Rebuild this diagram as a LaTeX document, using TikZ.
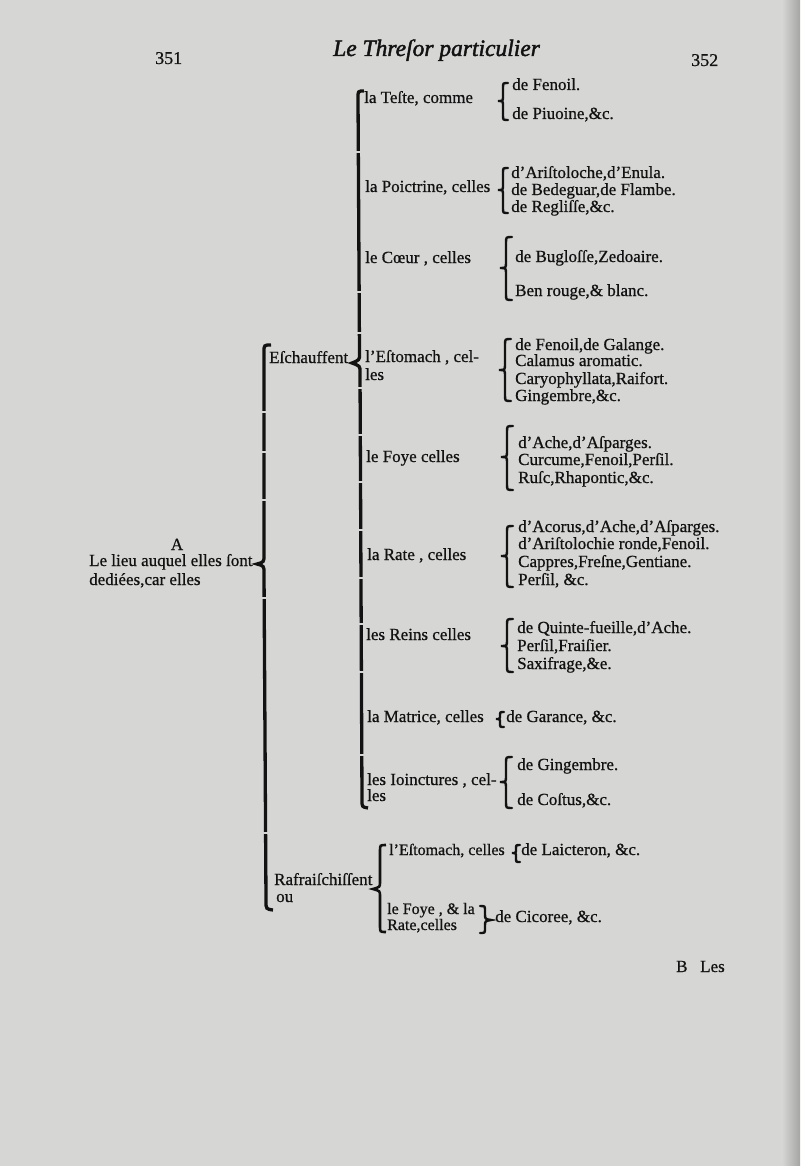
\documentclass[tikz,border=0pt]{standalone}
\usepackage{fontspec}
\setmainfont[FakeBold=0.7]{Liberation Serif}
\newfontfamily\ttlfont[FakeBold=1.8]{Liberation Serif}
\definecolor{paper}{RGB}{214,214,212}
\definecolor{paperdark}{RGB}{165,165,163}
\definecolor{ink}{RGB}{18,18,18}
\tikzset{
  txt/.style={anchor=base west, inner sep=0pt, text=ink, font=\fontsize{17}{17.5}\selectfont},
  txts/.style={txt, font=\fontsize{16}{16.5}\selectfont},
  hdr/.style={anchor=base west, inner sep=0pt, text=ink, font=\fontsize{18}{18}\selectfont},
  ttl/.style={anchor=base west, inner sep=0pt, text=ink, font=\ttlfont\fontsize{23.5}{23.5}\selectfont\itshape},
  bigbar/.style={draw=ink, line width=3.3pt, line cap=butt},
  curlyb/.style={draw=ink, line width=2.4pt, line cap=round},
  gap/.style={fill=paper},
}
% left curly brace: x, top, tip, bottom, width
\newcommand\lbr[5]{%
  \draw[curlyb] (#1+#5,#2) .. controls (#1,#2) .. (#1,#2+#5)
     -- (#1,#3-#5) .. controls (#1,#3) .. (#1-#5,#3)
     .. controls (#1,#3) .. (#1,#3+#5)
     -- (#1,#4-#5) .. controls (#1,#4) .. (#1+#5,#4);}
% small gap in a bar: x, y
\newcommand\bgap[2]{\fill[gap] (#1-3,#2-1.2) rectangle (#1+3,#2+1.2);}
\begin{document}
\begin{tikzpicture}[x=1pt,y=-1pt]
\useasboundingbox (0,0) rectangle (800,1166);
\fill[paper] (0,0) rectangle (800,1166);
\shade[left color=paper, right color=paperdark] (782,0) rectangle (800,1166);

% header
\node[hdr] (p351) at (155,64) {351};
\node[ttl] (title) at (333,56) {Le Threſor particulier};
\node[hdr] (p352) at (691,66) {352};

% level 1
\node[txt, anchor=base] (A) at (177,550) {A};
\node[txt] (lieu1) at (89,566) {Le lieu auquel elles ſont};
\node[txt] (lieu2) at (89,585) {dediées,car elles};

% level 2 brace
\draw[bigbar] (271,345) .. controls (264,345) .. (264,352) -- (264,555)
   .. controls (264,562) .. (257,564) .. controls (264,566) .. (264,573)
   -- (266,901) .. controls (266,909) .. (273,910);
\foreach \g in {412,452,500,598,833} {\bgap{264.5}{\g}}

\node[txt] (esch) at (269,363) {Eſchauffent};
\node[txt] (rafr) at (274,885) {Rafraiſchiſſent};
\node[txt] (ou) at (276,902) {ou};

% level 3 big brace
\draw[bigbar] (364,91) .. controls (358,91) .. (358,98) -- (359.5,354)
   .. controls (359.5,360) .. (352,363) .. controls (360,366) .. (360,372)
   -- (362,800) .. controls (362,807) .. (368,808);
\foreach \g/\gx in {152/358.3,292/359.1,333/359.3,388/360.1,435/360.4,482/360.6,530/360.8,578/361.1,624/361.2,672/361.4,755/361.8} {\bgap{\gx}{\g}}

\node[txt] (teste) at (364,103) {la Teſte, comme};
\node[txt] (poict) at (365,192) {la Poictrine, celles};
\node[txt] (coeur) at (365,263) {le Cœur , celles};
\node[txt] (estom1) at (365,362) {l'Eſtomach , cel-};
\node[txt] (estom2) at (365,380) {les};
\node[txt] (foye) at (366,462) {le Foye celles};
\node[txt] (rate) at (367,560) {la Rate , celles};
\node[txt] (reins) at (366,640) {les Reins celles};
\node[txt] (matr) at (367,722) {la Matrice, celles};
\node[txt] (ioin1) at (367,785) {les Ioinctures , cel-};
\node[txt] (ioin2) at (367,801) {les};

% small braces
\lbr{503}{83}{101}{120}{5}
\lbr{503}{168}{190}{213}{5}
\lbr{506}{237}{268}{300}{6}
\lbr{505}{339}{370}{401}{6}
\lbr{507}{426}{457}{490}{6}
\lbr{507}{526}{556}{587}{6}
\lbr{507}{619}{646}{672}{6}
\lbr{500}{712}{719}{727}{4}
\lbr{506}{757}{782}{808}{6}

% items
\node[txt] (i11) at (512,90) {de Fenoil.};
\node[txt] (i12) at (512,119) {de Piuoine,\&c.};
\node[txt] (i21) at (511,178) {d'Ariſtoloche,d'Enula.};
\node[txt] (i22) at (511,195) {de Bedeguar,de Flambe.};
\node[txt] (i23) at (511,212) {de Regliſſe,\&c.};
\node[txt] (i31) at (515,262) {de Bugloſſe,Zedoaire.};
\node[txt] (i32) at (515,296) {Ben rouge,\& blanc.};
\node[txt] (i41) at (515,350) {de Fenoil,de Galange.};
\node[txt] (i42) at (515,366) {Calamus aromatic.};
\node[txt] (i43) at (515,384) {Caryophyllata,Raifort.};
\node[txt] (i44) at (515,401) {Gingembre,\&c.};
\node[txt] (i51) at (518,448) {d'Ache,d'Aſparges.};
\node[txt] (i52) at (518,465) {Curcume,Fenoil,Perſil.};
\node[txt] (i53) at (518,483) {Ruſc,Rhapontic,\&c.};
\node[txt] (i61) at (518,532) {d'Acorus,d'Ache,d'Aſparges.};
\node[txt] (i62) at (518,549) {d'Ariſtolochie ronde,Fenoil.};
\node[txt] (i63) at (518,567) {Cappres,Freſne,Gentiane.};
\node[txt] (i64) at (518,585) {Perſil, \&c.};
\node[txt] (i71) at (517,633) {de Quinte-fueille,d'Ache.};
\node[txt] (i72) at (517,651) {Perſil,Fraiſier.};
\node[txt] (i73) at (517,669) {Saxifrage,\&e.};
\node[txt] (i81) at (506,722) {de Garance, \&c.};
\node[txt] (i91) at (517,770) {de Gingembre.};
\node[txt] (i92) at (517,805) {de Coſtus,\&c.};

% Rafraischissent branch
\draw[bigbar, line width=2.6pt] (386,845) .. controls (380,845) .. (380,851) -- (380,882)
   .. controls (380,887) .. (373,889) .. controls (380,891) .. (380,896)
   -- (380,926) .. controls (380,932) .. (386,932);
\node[txts] (rest) at (389,855) {l'Eſtomach, celles};
\lbr{516}{845}{853}{862}{4}
\node[txt] (lait) at (521,855) {de Laicteron, \&c.};
\node[txts] (rfoye1) at (387,914) {le Foye , \& la};
\node[txts] (rfoye2) at (387,930) {Rate,celles};
\draw[curlyb] (480,906) .. controls (485,906) .. (485,911) -- (485,914)
   .. controls (485,919) .. (491,920) .. controls (485,921) .. (485,926)
   -- (485,928) .. controls (485,933) .. (480,933);
\node[txt] (cico) at (495,922) {de Cicoree, \&c.};

% catchword
\node[txt] (B) at (676,972) {B};
\node[txt] (Les) at (700,972) {Les};
\end{tikzpicture}
\end{document}
